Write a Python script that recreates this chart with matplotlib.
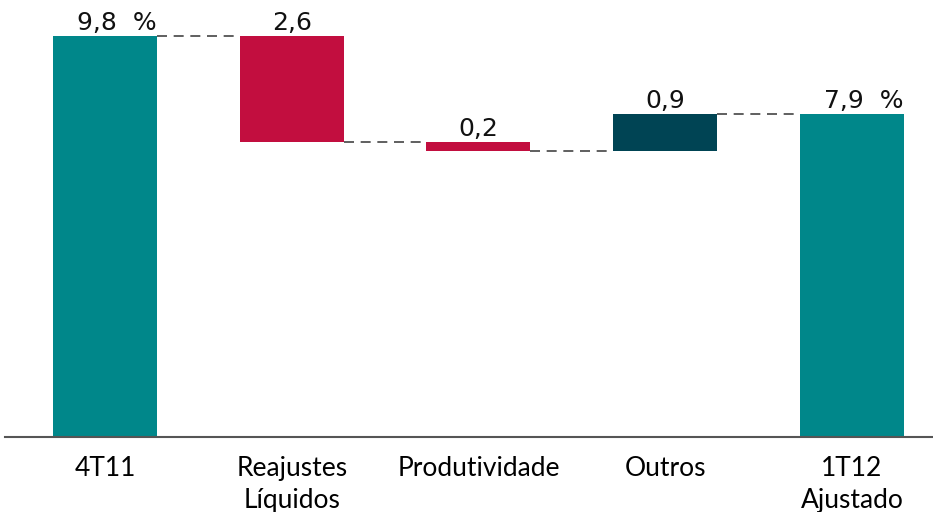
import matplotlib
matplotlib.use('Agg')
import matplotlib.pyplot as plt
import numpy as np

# dados do grafico (cascata)
categorias = ['4T11', 'Reajustes\nLíquidos', 'Produtividade', 'Outros', '1T12\nAjustado']
valores = [9.8, -2.6, -0.2, 0.9, 7.9]
rotulos = ['9,8  %', '2,6', '0,2', '0,9', '7,9  %']
totais = [True, False, False, False, True]

cor_total = '#00878A'
cor_neg = '#C20E3F'
cor_pos = '#004454'

fig = plt.figure(figsize=(9.33, 5.12), dpi=100)
ax = fig.add_axes([0.0, 1 - 437 / 512, 1.0, 437 / 512])

x = np.arange(len(categorias))
largura = 0.557

base = []
alturas = []
cores = []
nivel = 0.0
for v, t in zip(valores, totais):
    if t:
        base.append(0.0)
        alturas.append(v)
        cores.append(cor_total)
        nivel = v
    else:
        novo = nivel + v
        base.append(min(nivel, novo))
        alturas.append(abs(v))
        cores.append(cor_neg if v < 0 else cor_pos)
        nivel = novo

ax.bar(x, alturas, bottom=base, width=largura, color=cores, zorder=2)

# linhas tracejadas ligando as barras
nivel = 0.0
for i, (v, t) in enumerate(zip(valores, totais)):
    nivel = v if t else nivel + v
    if i < len(valores) - 1:
        ax.plot([x[i] + largura / 2, x[i + 1] - largura / 2], [nivel, nivel],
                color='#444444', lw=1.2, dashes=(6, 4), zorder=1)

# rotulos de valor
for i in range(len(valores)):
    topo = base[i] + alturas[i]
    if totais[i]:
        ax.text(x[i] + largura / 2, topo + 0.03, rotulos[i], ha='right', va='bottom',
                fontsize=18, family='DejaVu Sans', color='#111111')
    else:
        ax.text(x[i], topo + 0.03, rotulos[i], ha='center', va='bottom',
                fontsize=18, family='DejaVu Sans', color='#111111')

ax.set_xlim(-0.562, 4.434)
ax.set_ylim(0, 437 / 401 * 9.8)
ax.set_xticks(x)
ax.set_xticklabels(categorias, fontsize=19, family='Lato', linespacing=1.35)
ax.tick_params(axis='x', length=0, pad=14)
ax.set_yticks([])
for s in ['top', 'right', 'left']:
    ax.spines[s].set_visible(False)
ax.spines['bottom'].set_color('#555555')
ax.spines['bottom'].set_linewidth(1.5)
ax.spines['bottom'].set_bounds(-0.535, 4.5)

fig.savefig('out.png', dpi=100)
